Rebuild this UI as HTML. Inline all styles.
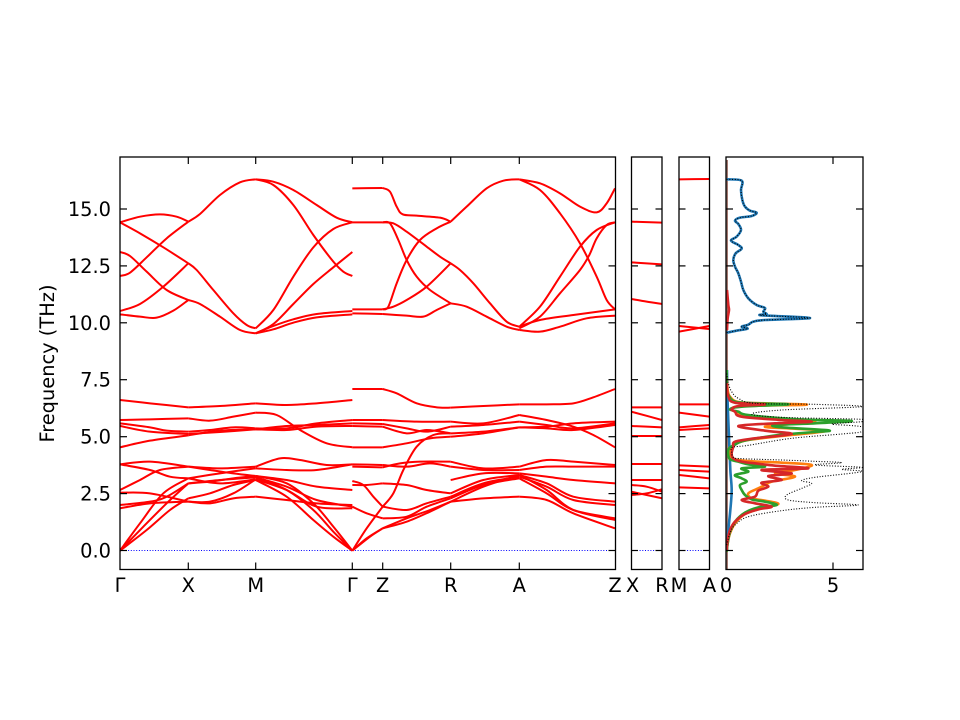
<!DOCTYPE html>
<html><head><meta charset="utf-8">
<style>
html,body{margin:0;padding:0;background:#fff;}
svg{display:block;}
text{font-family:"DejaVu Sans","Liberation Sans",sans-serif;font-size:19.4px;fill:#000;}
.r{fill:none;stroke:#ff0000;stroke-width:2;vector-effect:non-scaling-stroke;stroke-linejoin:round;}
.db{fill:none;stroke:#1f77b4;stroke-width:2.6;vector-effect:non-scaling-stroke;stroke-linejoin:round;}
.do{fill:none;stroke:#ff7f0e;stroke-width:2.6;vector-effect:non-scaling-stroke;stroke-linejoin:round;}
.dg{fill:none;stroke:#2ca02c;stroke-width:2.6;vector-effect:non-scaling-stroke;stroke-linejoin:round;}
.dr{fill:none;stroke:#d62728;stroke-width:2.6;vector-effect:non-scaling-stroke;stroke-linejoin:round;}
.dt{fill:none;stroke:#000;stroke-width:1.1;stroke-dasharray:1 1.7;vector-effect:non-scaling-stroke;}
.zl{stroke:#0000ff;stroke-width:1;stroke-dasharray:1 1.7;}
.fr{fill:none;stroke:#000;stroke-width:1.3;}
.tk{stroke:#000;stroke-width:1.2;}
</style></head><body>
<svg id="c" width="960" height="720" viewBox="0 0 960 720" xmlns="http://www.w3.org/2000/svg">
<defs>
<clipPath id="cp1"><rect x="120" y="157" width="495.5" height="412.5"/></clipPath>
<clipPath id="cp2"><rect x="631.5" y="157" width="30.5" height="412.5"/></clipPath>
<clipPath id="cp3"><rect x="679" y="157" width="30.5" height="412.5"/></clipPath>
<clipPath id="cp4"><rect x="726" y="157" width="137" height="412.5"/></clipPath>
</defs>

<!-- MAIN PANEL -->
<g clip-path="url(#cp1)">
<line class="zl" x1="120" y1="550.5" x2="615.5" y2="550.5"/>
<g transform="translate(100,150) scale(0.333333)">
<polyline class="sm r" points="60,217 120,200 180,193 230,200 265,215"/>
<polyline class="sm r" points="60,217 120,250 190,292 265,340"/>
<polyline class="sm r" points="60,306 90,318 140,365 200,420 265,450"/>
<polyline class="sm r" points="60,378 90,368 140,322 200,265 265,215"/>
<polyline class="sm r" points="60,483 120,462 190,410 265,340"/>
<polyline class="sm r" points="60,493 120,500 170,503 220,482 265,450"/>
<polyline class="sm r" points="265,215 300,192 360,135 420,97 467,88"/>
<polyline class="sm r" points="265,340 290,360 340,420 400,490 440,525 467,535"/>
<polyline class="sm r" points="265,450 300,462 360,500 420,540 467,550"/>
<polyline class="sm r" points="467,88 520,95 580,120 650,165 710,203 757,217"/>
<polyline class="sm r" points="467,88 520,105 580,165 640,255 700,335 730,365 757,378"/>
<polyline class="sm r" points="467,535 520,480 580,380 640,292 700,237 757,217"/>
<polyline class="sm r" points="467,550 520,522 580,462 640,402 700,352 757,306"/>
<polyline class="sm r" points="467,550 520,528 580,508 650,492 757,483"/>
<polyline class="sm r" points="467,550 520,538 580,518 650,502 757,493"/>
</g>
<g transform="translate(340,150) scale(0.333333)">
<polyline class="sm r" points="37,115 128,114"/>
<polyline class="sm r" points="37,217 128,217"/>
<polyline class="sm r" points="37,478 128,478"/>
<polyline class="sm r" points="37,490 128,492"/>
<polyline class="sm r" points="128,114 150,125 170,170 188,193 230,197 300,203 332,215"/>
<polyline class="sm r" points="128,217 160,220 200,245 260,290 300,320 332,340"/>
<polyline class="sm r" points="128,217 150,220 175,270 200,330 230,380 270,420 332,460"/>
<polyline class="sm r" points="128,478 145,470 170,400 200,330 240,270 290,235 332,215"/>
<polyline class="sm r" points="128,478 160,470 200,450 260,410 332,340"/>
<polyline class="sm r" points="128,492 200,497 250,500 290,480 332,460"/>
<polyline class="sm r" points="332,215 380,170 440,115 490,92 538,88"/>
<polyline class="sm r" points="332,340 360,360 400,400 450,460 500,515 538,530"/>
<polyline class="sm r" points="332,460 380,470 440,500 500,530 538,540"/>
<polyline class="sm r" points="538,88 600,100 660,130 720,170 770,187 800,160 825,115"/>
<polyline class="sm r" points="538,88 600,120 660,190 720,280 770,380 800,450 825,478"/>
<polyline class="sm r" points="538,530 600,470 660,380 720,290 770,240 825,217"/>
<polyline class="sm r" points="538,535 600,500 660,430 720,360 748,315 770,265 800,225 825,217"/>
<polyline class="sm r" points="538,530 600,510 700,495 825,478"/>
<polyline class="sm r" points="538,540 600,545 660,530 740,505 825,497"/>
</g>
<g transform="translate(100,370) scale(0.333333)">
<polyline class="sm r" points="60,90 150,100 265,112"/>
<polyline class="sm r" points="60,150 150,148 265,145"/>
<polyline class="sm r" points="60,160 150,172 200,182 265,185"/>
<polyline class="sm r" points="60,168 150,185 265,192"/>
<polyline class="sm r" points="60,232 150,212 265,196"/>
<polyline class="sm r" points="265,112 360,108 467,100"/>
<polyline class="sm r" points="265,145 330,152 400,140 467,128"/>
<polyline class="sm r" points="265,185 330,180 400,172 467,175"/>
<polyline class="sm r" points="265,192 360,186 467,178"/>
<polyline class="sm r" points="265,196 360,182 467,178"/>
<polyline class="sm r" points="467,100 560,105 650,100 757,90"/>
<polyline class="sm r" points="467,128 530,135 600,180 680,220 757,232"/>
<polyline class="sm r" points="467,175 560,175 650,160 757,150"/>
<polyline class="sm r" points="467,178 560,168 650,165 757,160"/>
<polyline class="sm r" points="467,178 560,180 650,170 757,168"/>
<polyline class="sm r" points="60,283 150,275 265,290"/>
<polyline class="sm r" points="60,283 150,300 210,320 265,325"/>
<polyline class="sm r" points="60,360 120,330 180,300 265,290"/>
<polyline class="sm r" points="60,368 150,370 265,395"/>
<polyline class="sm r" points="60,405 150,395 200,380 265,340"/>
<polyline class="sm r" points="60,415 150,400 265,395"/>
<polyline class="sm r" points="60,542 120,460 190,370 265,325"/>
<polyline class="sm r" points="60,542 130,470 200,400 265,340"/>
<polyline class="sm r" points="60,542 140,480 210,420 265,385"/>
<polyline class="sm r" points="265,290 360,295 467,290"/>
<polyline class="sm r" points="265,325 360,310 467,295"/>
<polyline class="sm r" points="265,290 330,300 400,310 467,318"/>
<polyline class="sm r" points="265,340 360,330 467,322"/>
<polyline class="sm r" points="265,325 360,340 467,328"/>
<polyline class="sm r" points="265,395 330,400 400,385 467,380"/>
<polyline class="sm r" points="265,385 330,370 400,345 467,330"/>
<polyline class="sm r" points="265,340 330,335 400,325 467,318"/>
<polyline class="sm r" points="265,395 330,395 400,370 467,328"/>
<polyline class="sm r" points="467,290 540,265 600,270 680,285 757,283"/>
<polyline class="sm r" points="467,295 560,300 650,300 757,283"/>
<polyline class="sm r" points="467,318 560,330 650,350 757,360"/>
<polyline class="sm r" points="467,322 560,350 650,390 757,410"/>
<polyline class="sm r" points="467,328 560,360 650,410 757,415"/>
<polyline class="sm r" points="467,380 560,390 650,400 757,405"/>
<polyline class="sm r" points="467,318 560,340 640,400 700,470 757,542"/>
<polyline class="sm r" points="467,322 560,360 640,420 700,485 757,542"/>
<polyline class="sm r" points="467,330 560,380 640,450 700,500 757,542"/>
</g>
<g transform="translate(340,370) scale(0.333333)">
<polyline class="sm r" points="37,57 128,57"/>
<polyline class="sm r" points="37,150 128,150"/>
<polyline class="sm r" points="37,160 128,162"/>
<polyline class="sm r" points="37,168 128,170"/>
<polyline class="sm r" points="37,232 128,232"/>
<polyline class="sm r" points="37,283 128,285"/>
<polyline class="sm r" points="37,290 128,292"/>
<polyline class="sm r" points="37,333 70,345 100,380 128,410"/>
<polyline class="sm r" points="37,345 80,345 128,340"/>
<polyline class="sm r" points="37,410 80,430 128,445"/>
<polyline class="sm r" points="37,542 80,475 128,410"/>
<polyline class="sm r" points="37,542 80,505 128,475"/>
<polyline class="sm r" points="37,542 90,500 128,475"/>
<polyline class="sm r" points="128,57 170,70 230,100 290,112 332,113"/>
<polyline class="sm r" points="128,150 230,155 332,155"/>
<polyline class="sm r" points="128,162 200,175 260,185 332,170"/>
<polyline class="sm r" points="128,170 200,190 260,180 332,190"/>
<polyline class="sm r" points="128,232 200,220 270,205 332,200"/>
<polyline class="sm r" points="128,285 200,290 270,280 332,290"/>
<polyline class="sm r" points="128,292 180,280 240,275 332,275"/>
<polyline class="sm r" points="128,410 160,370 190,300 230,230 280,195 332,190"/>
<polyline class="sm r" points="128,340 200,345 260,360 332,370"/>
<polyline class="sm r" points="128,445 200,440 260,410 332,385"/>
<polyline class="sm r" points="128,410 200,420 260,400 332,380"/>
<polyline class="sm r" points="128,475 200,445 270,420 332,395"/>
<polyline class="sm r" points="128,475 200,455 270,425 332,395"/>
<polyline class="sm r" points="332,113 430,108 538,103"/>
<polyline class="sm r" points="332,155 430,160 538,135"/>
<polyline class="sm r" points="332,170 430,165 538,155"/>
<polyline class="sm r" points="332,190 430,185 538,172"/>
<polyline class="sm r" points="332,200 430,190 538,172"/>
<polyline class="sm r" points="332,275 430,295 538,290"/>
<polyline class="sm r" points="332,290 430,300 538,300"/>
<polyline class="sm r" points="332,330 430,310 538,310"/>
<polyline class="sm r" points="332,370 430,330 538,315"/>
<polyline class="sm r" points="332,380 430,340 538,320"/>
<polyline class="sm r" points="332,385 430,345 538,325"/>
<polyline class="sm r" points="332,395 430,385 538,380"/>
<polyline class="sm r" points="332,395 430,350 538,315"/>
<polyline class="sm r" points="538,103 620,103 700,100 760,82 825,57"/>
<polyline class="sm r" points="538,135 620,150 700,170 760,195 825,232"/>
<polyline class="sm r" points="538,155 620,165 700,175 825,160"/>
<polyline class="sm r" points="538,172 620,175 700,180 825,165"/>
<polyline class="sm r" points="538,172 620,170 700,160 825,155"/>
<polyline class="sm r" points="538,290 620,270 700,275 825,285"/>
<polyline class="sm r" points="538,300 620,290 700,290 825,290"/>
<polyline class="sm r" points="538,310 620,320 700,330 825,340"/>
<polyline class="sm r" points="538,315 620,340 700,380 825,395"/>
<polyline class="sm r" points="538,320 620,350 700,390 825,405"/>
<polyline class="sm r" points="538,325 620,370 700,420 825,445"/>
<polyline class="sm r" points="538,315 620,360 700,420 825,450"/>
<polyline class="sm r" points="538,380 620,390 700,430 825,475"/>
</g>
</g>

<!-- PANEL 2 (X-R) -->
<g clip-path="url(#cp2)">
<line class="zl" x1="631.5" y1="550.5" x2="662" y2="550.5"/>
<g transform="translate(610,150) scale(0.333333)">
<polyline class="sm r" points="64,215 156,218"/>
<polyline class="sm r" points="64,337 156,343"/>
<polyline class="sm r" points="64,447 110,455 156,462"/>
<polyline class="sm r" points="64,772 156,772"/>
<polyline class="sm r" points="64,785 156,810"/>
<polyline class="sm r" points="64,828 156,832"/>
<polyline class="sm r" points="64,858 156,858"/>
<polyline class="sm r" points="64,942 156,942"/>
<polyline class="sm r" points="64,990 156,990"/>
<polyline class="sm r" points="64,1005 110,1010 156,1025"/>
<polyline class="sm r" points="64,1035 110,1030 156,1018"/>
<polyline class="sm r" points="64,1025 156,1045"/>
</g>
</g>

<!-- PANEL 3 (M-A) -->
<g clip-path="url(#cp3)">
<line class="zl" x1="679" y1="550.5" x2="709.5" y2="550.5"/>
<g transform="translate(610,150) scale(0.333333)">
<polyline class="sm r" points="207,88 298,87"/>
<polyline class="sm r" points="207,528 298,537"/>
<polyline class="sm r" points="207,545 298,528"/>
<polyline class="sm r" points="207,763 298,763"/>
<polyline class="sm r" points="207,788 298,800"/>
<polyline class="sm r" points="207,832 298,825"/>
<polyline class="sm r" points="207,840 298,835"/>
<polyline class="sm r" points="207,946 298,950"/>
<polyline class="sm r" points="207,960 298,965"/>
<polyline class="sm r" points="207,975 298,985"/>
<polyline class="sm r" points="207,1012 298,1015"/>
</g>
</g>

<!-- DOS PANEL -->
<g clip-path="url(#cp4)">
<line x1="727.2" y1="160" x2="727.2" y2="569" stroke="#8c564b" stroke-width="1.2"/>
<g transform="translate(715,150) scale(0.333333)">
<polyline class="sm db" points="35,88 80,92 78,120 82,150 90,170 105,182 125,188 110,198 75,203 60,212 70,222 78,240 65,260 48,272 70,285 80,296 62,310 55,330 60,350 70,370 78,395 85,420 100,445 125,465 150,474 145,485 155,492 140,496 285,504 150,510 115,515 100,524 80,530 98,536 70,541 35,548"/>
<polyline class="sm dt" points="35,88 80,92 78,120 82,150 90,170 105,182 125,188 110,198 75,203 60,212 70,222 78,240 65,260 48,272 70,285 80,296 62,310 55,330 60,350 70,370 78,395 85,420 100,445 125,465 150,474 145,485 155,492 140,496 285,504 150,510 115,515 100,524 80,530 98,536 70,541 35,548"/>
<polyline class="sm dr" points="36,420 40,465 42,480 38,505 36,540"/>
</g>
<g transform="translate(715,370) scale(0.333333)">
<polyline class="sm db" points="36,0 38,100 42,200 46,300 50,360 46,420 40,480 36,540"/>
<polyline class="sm do" points="35,545 38,520 45,490 60,460 90,432 140,415 190,402 150,392 110,385 100,370 130,355 150,345 170,335 240,320 180,310 240,300 290,285 200,278 130,275 70,270 50,262 45,245 50,232 60,222 100,210 200,198 280,190 330,182 220,175 150,170 250,160 300,152 200,148 90,138 60,125 50,115 90,108 275,104 150,100 70,96 45,80 38,60 35,20"/>
<polyline class="sm dg" points="35,545 38,520 45,485 60,455 90,428 130,412 185,405 150,395 110,388 90,375 80,360 75,345 95,335 80,325 60,315 100,305 80,295 150,290 100,283 70,275 45,268 40,255 40,240 45,232 60,224 80,214 130,204 200,194 300,186 340,181 200,172 180,165 300,160 410,153 250,148 100,135 70,125 45,118 80,110 220,103 120,100 60,95 40,75 35,55 35,0"/>
<polyline class="sm dr" points="35,540 38,510 45,480 60,455 90,432 130,418 170,410 120,400 80,390 120,380 130,362 160,350 140,338 200,330 160,318 230,310 140,300 280,295 180,287 120,280 80,275 55,265 50,250 55,230 60,215 120,205 230,192 150,182 70,168 180,160 290,155 200,150 80,140 60,125 50,118 70,108 150,103 60,98 40,80 35,40"/>
<polyline class="sm dt" points="35,525 45,490 60,465 100,440 200,422 300,412 430,405 300,398 220,390 215,375 260,355 290,340 260,332 300,322 440,305 380,298 440,292 300,285 380,278 300,274 200,270 80,266 55,262 50,245 52,232 100,226 230,205 380,192 440,185 440,170 350,162 440,155 440,148 200,142 110,132 200,120 440,110 300,103 120,100 70,85 50,65 40,40 35,10"/>
</g>
</g>

<!-- FRAMES -->
<rect class="fr" x="120" y="157" width="495.5" height="412.5"/>
<rect class="fr" x="631.5" y="157" width="30.5" height="412.5"/>
<rect class="fr" x="679" y="157" width="30.5" height="412.5"/>
<rect class="fr" x="726" y="157" width="137" height="412.5"/>

<!-- TICKS -->
<g class="tk">
<!-- main y ticks -->
<line x1="120" y1="550.5" x2="127" y2="550.5"/><line x1="615.5" y1="550.5" x2="608.5" y2="550.5"/>
<line x1="120" y1="493.6" x2="127" y2="493.6"/><line x1="615.5" y1="493.6" x2="608.5" y2="493.6"/>
<line x1="120" y1="436.7" x2="127" y2="436.7"/><line x1="615.5" y1="436.7" x2="608.5" y2="436.7"/>
<line x1="120" y1="379.7" x2="127" y2="379.7"/><line x1="615.5" y1="379.7" x2="608.5" y2="379.7"/>
<line x1="120" y1="322.8" x2="127" y2="322.8"/><line x1="615.5" y1="322.8" x2="608.5" y2="322.8"/>
<line x1="120" y1="265.9" x2="127" y2="265.9"/><line x1="615.5" y1="265.9" x2="608.5" y2="265.9"/>
<line x1="120" y1="209" x2="127" y2="209"/><line x1="615.5" y1="209" x2="608.5" y2="209"/>
<!-- main x ticks -->
<line x1="188.3" y1="569.5" x2="188.3" y2="562.5"/><line x1="188.3" y1="157" x2="188.3" y2="164"/>
<line x1="255.7" y1="569.5" x2="255.7" y2="562.5"/><line x1="255.7" y1="157" x2="255.7" y2="164"/>
<line x1="352.3" y1="569.5" x2="352.3" y2="562.5"/><line x1="352.3" y1="157" x2="352.3" y2="164"/>
<line x1="382.7" y1="569.5" x2="382.7" y2="562.5"/><line x1="382.7" y1="157" x2="382.7" y2="164"/>
<line x1="450.7" y1="569.5" x2="450.7" y2="562.5"/><line x1="450.7" y1="157" x2="450.7" y2="164"/>
<line x1="519.3" y1="569.5" x2="519.3" y2="562.5"/><line x1="519.3" y1="157" x2="519.3" y2="164"/>
<!-- panel 2 -->
<line x1="631.5" y1="550.5" x2="638" y2="550.5"/><line x1="662" y1="550.5" x2="655.5" y2="550.5"/>
<line x1="631.5" y1="493.6" x2="638" y2="493.6"/><line x1="662" y1="493.6" x2="655.5" y2="493.6"/>
<line x1="631.5" y1="436.7" x2="638" y2="436.7"/><line x1="662" y1="436.7" x2="655.5" y2="436.7"/>
<line x1="631.5" y1="379.7" x2="638" y2="379.7"/><line x1="662" y1="379.7" x2="655.5" y2="379.7"/>
<line x1="631.5" y1="322.8" x2="638" y2="322.8"/><line x1="662" y1="322.8" x2="655.5" y2="322.8"/>
<line x1="631.5" y1="265.9" x2="638" y2="265.9"/><line x1="662" y1="265.9" x2="655.5" y2="265.9"/>
<line x1="631.5" y1="209" x2="638" y2="209"/><line x1="662" y1="209" x2="655.5" y2="209"/>
<!-- panel 3 -->
<line x1="679" y1="550.5" x2="685.5" y2="550.5"/><line x1="709.5" y1="550.5" x2="703" y2="550.5"/>
<line x1="679" y1="493.6" x2="685.5" y2="493.6"/><line x1="709.5" y1="493.6" x2="703" y2="493.6"/>
<line x1="679" y1="436.7" x2="685.5" y2="436.7"/><line x1="709.5" y1="436.7" x2="703" y2="436.7"/>
<line x1="679" y1="379.7" x2="685.5" y2="379.7"/><line x1="709.5" y1="379.7" x2="703" y2="379.7"/>
<line x1="679" y1="322.8" x2="685.5" y2="322.8"/><line x1="709.5" y1="322.8" x2="703" y2="322.8"/>
<line x1="679" y1="265.9" x2="685.5" y2="265.9"/><line x1="709.5" y1="265.9" x2="703" y2="265.9"/>
<line x1="679" y1="209" x2="685.5" y2="209"/><line x1="709.5" y1="209" x2="703" y2="209"/>
<!-- DOS -->
<line x1="726" y1="550.5" x2="733" y2="550.5"/><line x1="863" y1="550.5" x2="856" y2="550.5"/>
<line x1="726" y1="493.6" x2="733" y2="493.6"/><line x1="863" y1="493.6" x2="856" y2="493.6"/>
<line x1="726" y1="436.7" x2="733" y2="436.7"/><line x1="863" y1="436.7" x2="856" y2="436.7"/>
<line x1="726" y1="379.7" x2="733" y2="379.7"/><line x1="863" y1="379.7" x2="856" y2="379.7"/>
<line x1="726" y1="322.8" x2="733" y2="322.8"/><line x1="863" y1="322.8" x2="856" y2="322.8"/>
<line x1="726" y1="265.9" x2="733" y2="265.9"/><line x1="863" y1="265.9" x2="856" y2="265.9"/>
<line x1="726" y1="209" x2="733" y2="209"/><line x1="863" y1="209" x2="856" y2="209"/>
<line x1="833" y1="569.5" x2="833" y2="562.5"/><line x1="833" y1="157" x2="833" y2="164"/>
</g>

<!-- LABELS -->
<g text-anchor="end">
<text x="111" y="557.5">0.0</text>
<text x="111" y="500.6">2.5</text>
<text x="111" y="443.7">5.0</text>
<text x="111" y="386.7">7.5</text>
<text x="111" y="329.8">10.0</text>
<text x="111" y="272.9">12.5</text>
<text x="111" y="216">15.0</text>
</g>
<g text-anchor="middle">
<text x="120" y="592">Γ</text>
<text x="188.3" y="592">X</text>
<text x="255.7" y="592">M</text>
<text x="352.3" y="592">Γ</text>
<text x="382.7" y="592">Z</text>
<text x="450.7" y="592">R</text>
<text x="519.3" y="592">A</text>
<text x="615" y="592">Z</text>
<text x="632.5" y="592">X</text>
<text x="662" y="592">R</text>
<text x="679" y="592">M</text>
<text x="709.5" y="592">A</text>
<text x="726" y="592">0</text>
<text x="833" y="592">5</text>
</g>
<text x="0" y="0" text-anchor="middle" transform="translate(54,363.5) rotate(-90)">Frequency (THz)</text>
</svg>
<script>
(function(){
  var svg=document.getElementById('c');
  var pls=Array.prototype.slice.call(svg.querySelectorAll('polyline.sm'));
  pls.forEach(function(pl){
    var m=pl.getCTM();
    var raw=pl.getAttribute('points').trim().split(/\s+/).map(function(s){var a=s.split(',');return [+a[0],+a[1]];});
    var p=raw.map(function(q){return [m.a*q[0]+m.c*q[1]+m.e, m.b*q[0]+m.d*q[1]+m.f];});
    var n=p.length, d='M'+p[0][0].toFixed(2)+','+p[0][1].toFixed(2);
    for(var i=0;i<n-1;i++){
      var p0=p[i>0?i-1:0], p1=p[i], p2=p[i+1], p3=p[i+2<n?i+2:n-1];
      var c1x=p1[0]+(p2[0]-p0[0])/6, c1y=p1[1]+(p2[1]-p0[1])/6;
      var c2x=p2[0]-(p3[0]-p1[0])/6, c2y=p2[1]-(p3[1]-p1[1])/6;
      d+='C'+c1x.toFixed(2)+','+c1y.toFixed(2)+' '+c2x.toFixed(2)+','+c2y.toFixed(2)+' '+p2[0].toFixed(2)+','+p2[1].toFixed(2);
    }
    var path=document.createElementNS('http://www.w3.org/2000/svg','path');
    path.setAttribute('d',d);
    path.setAttribute('class',pl.getAttribute('class').replace('sm','').trim());
    var grp=pl.parentNode.parentNode;
    grp.appendChild(path);
    pl.parentNode.removeChild(pl);
  });
})();
</script>
</body></html>
